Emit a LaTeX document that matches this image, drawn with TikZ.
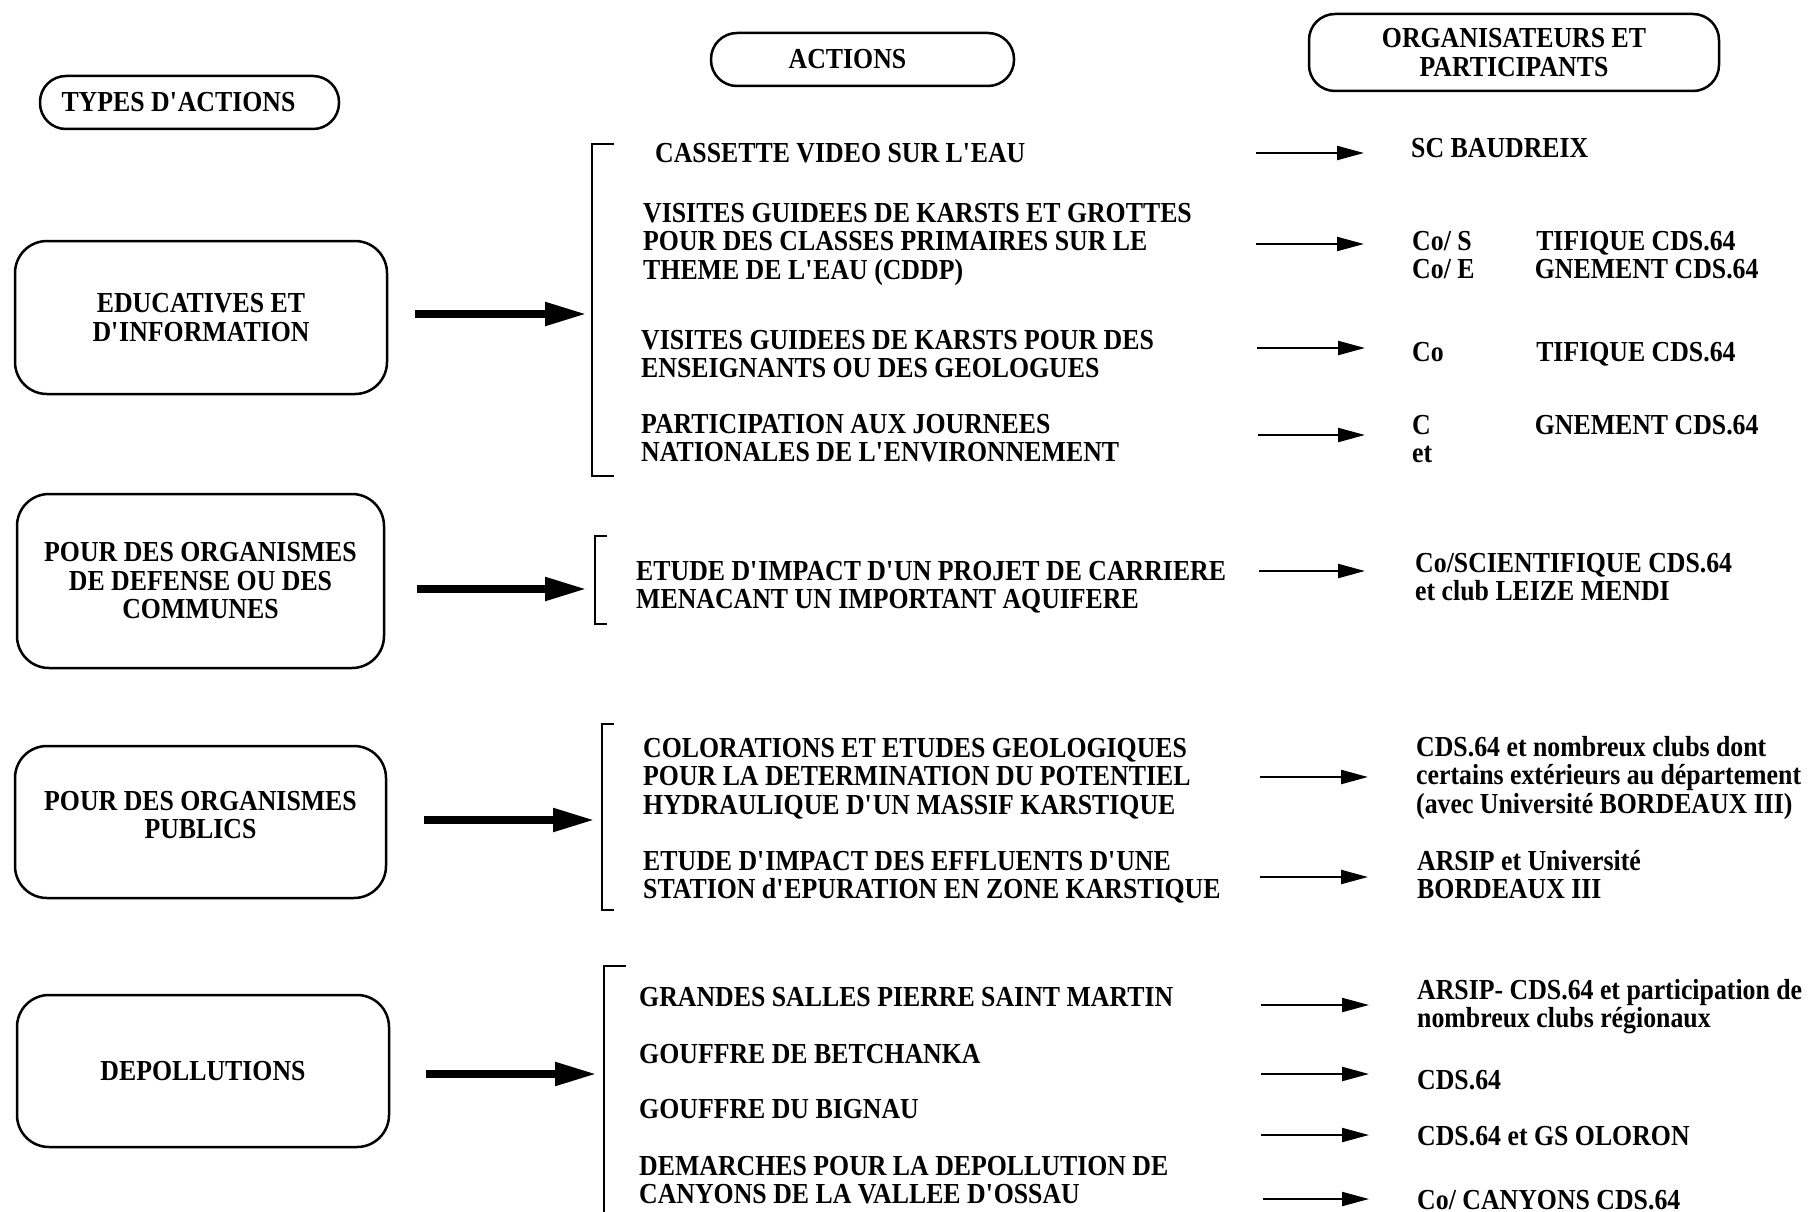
\documentclass[tikz,border=0pt]{standalone}
\usepackage{fontspec}
\setmainfont{Liberation Serif}[FakeStretch=0.89]
\usetikzlibrary{arrows.meta}
\newcommand\q{\textquotesingle}
\begin{document}
\begin{tikzpicture}[x=1pt,y=-1pt,
  txt/.style={font=\bfseries\fontsize{29}{28.5}\selectfont, inner sep=0pt, anchor=base west, align=left},
  hdr/.style={draw, line width=2.5pt, rounded corners=26pt, inner sep=0pt, font=\bfseries\fontsize{29}{28.5}\selectfont, align=center},
  typebox/.style={draw, line width=2.5pt, rounded corners=32pt, inner sep=0pt, font=\bfseries\fontsize{29}{28.5}\selectfont, align=center},
  bigarrow/.style={line width=8pt, -{Triangle[length=42pt,width=22pt]}},
  smallarrow/.style={line width=2.2pt, -{Triangle[length=27pt,width=14pt]}},
  brk/.style={line width=2.2pt}
]
\useasboundingbox (0,0) rectangle (1808,1212);

% headers
\node[hdr, minimum width=299pt, minimum height=53pt] (h1) at (189.5,102.5) {TYPES D\q ACTIONS\hspace*{22pt}};
\node[hdr, minimum width=303pt, minimum height=53pt] (h2) at (862.5,59.5) {ACTIONS\hspace*{30pt}};
\node[hdr, minimum width=410pt, minimum height=77pt] (h3) at (1514,52.5) {ORGANISATEURS ET\\PARTICIPANTS};

% type boxes
\node[typebox, minimum width=372pt, minimum height=153pt] (t1) at (201,317.5) {EDUCATIVES ET\\D\q INFORMATION};
\node[typebox, minimum width=367pt, minimum height=174pt] (t2) at (200.5,581) {POUR DES ORGANISMES\\DE DEFENSE OU DES\\COMMUNES};
\node[typebox, minimum width=371pt, minimum height=152pt] (t3) at (200.5,822) {POUR DES ORGANISMES\\PUBLICS\\[-14pt]\mbox{}};
\node[typebox, minimum width=372pt, minimum height=152pt] (t4) at (203,1071) {DEPOLLUTIONS};

% brackets
\coordinate (k1) at (592,314);
\coordinate (k2) at (595,589);
\coordinate (k3) at (602,820);
\coordinate (k4) at (604,1074);
\draw[brk] (614,144) -| (592,476) -- (614,476);
\draw[brk] (607,536) -| (595,624) -- (607,624);
\draw[brk] (614,724) -| (602,910) -- (614,910);
\draw[brk] (626,966) -| (604,1216);

% thick arrows
\draw[bigarrow, shorten <=27pt, shorten >=5pt] (t1.east |- k1) -- (k1);
\draw[bigarrow, shorten <=32pt, shorten >=8pt] (t2.east |- k2) -- (k2);
\draw[bigarrow, shorten <=37pt, shorten >=7pt] (t3.east |- k3) -- (k3);
\draw[bigarrow, shorten <=36pt, shorten >=7pt] (t4.east |- k4) -- (k4);

% actions (base = baseline of last line)
\node[txt] (a1) at (655,163) {CASSETTE VIDEO SUR L\q EAU};
\node[txt] (a2) at (643,279) {VISITES GUIDEES DE KARSTS ET GROTTES\\POUR DES CLASSES PRIMAIRES SUR LE\\THEME DE L\q EAU (CDDP)};
\node[txt] (a3) at (641,377.5) {VISITES GUIDEES DE KARSTS POUR DES\\ENSEIGNANTS OU DES GEOLOGUES};
\node[txt] (a4) at (641,461.5) {PARTICIPATION AUX JOURNEES\\NATIONALES DE L\q ENVIRONNEMENT};
\node[txt] (a5) at (636,608.5) {ETUDE D\q IMPACT D\q UN PROJET DE CARRIERE\\MENACANT UN IMPORTANT AQUIFERE};
\node[txt] (a6) at (643,814) {COLORATIONS ET ETUDES GEOLOGIQUES\\POUR LA DETERMINATION DU POTENTIEL\\HYDRAULIQUE D\q UN MASSIF KARSTIQUE};
\node[txt] (a7) at (643,898.5) {ETUDE D\q IMPACT DES EFFLUENTS D\q UNE\\STATION d\q EPURATION EN ZONE KARSTIQUE};
\node[txt] (a8) at (639,1006) {GRANDES SALLES PIERRE SAINT MARTIN};
\node[txt] (a9) at (639,1063) {GOUFFRE DE BETCHANKA};
\node[txt] (a10) at (639,1118) {GOUFFRE DU BIGNAU};
\node[txt] (a11) at (639,1203.5) {DEMARCHES POUR LA DEPOLLUTION DE\\CANYONS DE LA VALLEE D\q OSSAU};

% organisers
\node[txt] (o1) at (1411,158) {SC BAUDREIX};
\node[txt] (o2) at (1412,278.5) {Co/ S\phantom{CIEN}TIFIQUE CDS.64\\Co/ E\phantom{NSEI}GNEMENT CDS.64};
\node[txt] (o3) at (1412,361) {Co\phantom{/ SCIEN}TIFIQUE CDS.64};
\node[txt] (o4) at (1412,462.5) {C\phantom{o/ ENSEI}GNEMENT CDS.64\\et};
\node[txt] (o5) at (1415,600.5) {Co/SCIENTIFIQUE CDS.64\\et club LEIZE MENDI};
\node[txt] (o6) at (1416,813) {CDS.64 et nombreux clubs dont\\certains extérieurs au département\\(avec Université BORDEAUX III)};
\node[txt] (o7) at (1417,898.5) {ARSIP et Université\\BORDEAUX III};
\node[txt] (o8) at (1417,1027.5) {ARSIP- CDS.64 et participation de\\nombreux clubs régionaux};
\node[txt] (o9) at (1417,1089) {CDS.64};
\node[txt] (o10) at (1417,1145) {CDS.64 et GS OLORON};
\node[txt] (o11) at (1417,1209) {Co/ CANYONS CDS.64};

% thin arrows
\coordinate (s1) at (1256,153);  \coordinate (e1) at (1364,153);
\coordinate (s2) at (1256,244);  \coordinate (e2) at (1364,244);
\coordinate (s3) at (1257,348);  \coordinate (e3) at (1365,348);
\coordinate (s4) at (1258,435);  \coordinate (e4) at (1365,435);
\coordinate (s5) at (1259,571);  \coordinate (e5) at (1365,571);
\coordinate (s6) at (1260,777);  \coordinate (e6) at (1368,777);
\coordinate (s7) at (1260,877);  \coordinate (e7) at (1368,877);
\coordinate (s8) at (1261,1005); \coordinate (e8) at (1369,1005);
\coordinate (s9) at (1261,1074); \coordinate (e9) at (1369,1074);
\coordinate (s10) at (1261,1135); \coordinate (e10) at (1369,1135);
\coordinate (s11) at (1263,1199); \coordinate (e11) at (1369,1199);
\foreach \i in {1,...,11} {\draw[smallarrow] (s\i) -- (e\i);}
\end{tikzpicture}
\end{document}
